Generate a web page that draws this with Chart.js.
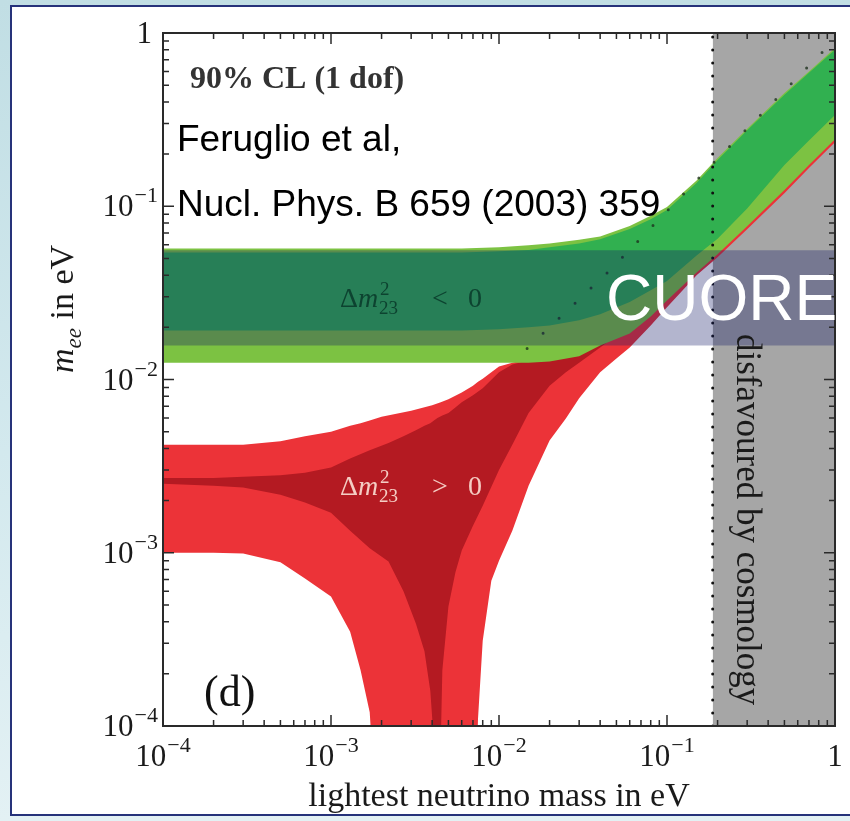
<!DOCTYPE html>
<html>
<head>
<meta charset="utf-8">
<script src="https://cdn.jsdelivr.net/npm/chart.js@4.4.1/dist/chart.umd.min.js"></script>
<style>
    html, body { margin: 0; padding: 0; overflow: hidden; }
    body {
        width: 850px; height: 821px; position: relative;
        background: linear-gradient(180deg, #c1dee4 0%, #d3e9ee 55%, #e3f1f4 100%);
    }
    #panel {
        position: absolute; left: 10px; top: 5px; width: 900px; height: 807px;
        background: #ffffff; border: 2px solid #26327a;
    }
    #wrap { position: absolute; left: 0; top: 0; width: 850px; height: 821px; }
</style>
</head>
<body>
<div id="panel"></div>
<div id="wrap"><canvas id="chart" width="850" height="821"></canvas></div>
<script>
// Axis ticks (label = base + exponent)
const xTicks = [1e-4, 1e-3, 1e-2, 1e-1, 1];
const xTickLabels = [['10', '\u22124'], ['10', '\u22123'], ['10', '\u22122'], ['10', '\u22121'], ['1', '']];
const yTicks = [1e-4, 1e-3, 1e-2, 1e-1, 1];
const yTickLabels = [['10', '\u22124'], ['10', '\u22123'], ['10', '\u22122'], ['10', '\u22121'], ['1', '']];

const ihMass = [1e-4, 1e-3, 3e-3, 0.006, 0.01, 0.015, 0.02, 0.03, 0.04, 0.06, 0.08, 0.1, 0.15, 0.2, 0.3, 0.5, 0.7, 1.0];
const ihOuterTop = [0.057, 0.057, 0.057, 0.057, 0.058, 0.0595, 0.061, 0.064, 0.067, 0.077, 0.088, 0.099, 0.141, 0.19, 0.28, 0.45, 0.60, 0.82];
const ihInnerTop = [0.054, 0.054, 0.054, 0.054, 0.055, 0.056, 0.058, 0.061, 0.0645, 0.074, 0.084, 0.095, 0.136, 0.185, 0.275, 0.44, 0.59, 0.80];
const ihInnerBottom = [0.0192, 0.0192, 0.0192, 0.0192, 0.0195, 0.020, 0.0205, 0.022, 0.0238, 0.028, 0.0327, 0.037, 0.052, 0.065, 0.097, 0.173, 0.24, 0.336];
const ihOuterBottom = [0.0125, 0.0125, 0.0125, 0.0125, 0.0125, 0.0125, 0.0127, 0.0136, 0.0157, 0.0184, 0.0231, 0.0286, 0.0415, 0.0528, 0.0766, 0.124, 0.173, 0.244];

// Normal hierarchy, outer region (light red)
const nhMass = [1e-4, 2e-4, 3e-4, 5e-4, 7e-4, 1e-3, 1.3e-3, 1.5e-3, 1.7e-3, 2e-3, 3e-3, 4e-3, 4.5e-3, 5e-3, 6e-3, 7e-3, 7.5e-3, 8e-3, 9e-3, 0.01, 0.012, 0.015, 0.02, 0.025, 0.03, 0.04, 0.05, 0.06, 0.08, 0.1, 0.15, 0.2, 0.3, 0.5, 0.7, 1.0];
const nhOuterTop = [0.0042, 0.0042, 0.0042, 0.0044, 0.0047, 0.0050, 0.0054, 0.0056, 0.0058, 0.0061, 0.0066, 0.0071, 0.0074, 0.0077, 0.0084, 0.0092, 0.0097, 0.0101, 0.011, 0.0119, 0.0125, 0.0132, 0.0147, 0.0168, 0.0187, 0.0225, 0.0257, 0.0294, 0.035, 0.040, 0.056, 0.073, 0.108, 0.21, 0.31, 0.41];
const nhOuterBottom = [0.001, 0.001, 0.00099, 0.00088, 0.00071, 0.00056, 0.00035, 0.00021, 0.00012, 1e-5, 1e-5, 1e-5, 1e-5, 1e-5, 1e-5, 1e-5, 0.00011, 0.00031, 0.00069, 0.0009, 0.00134, 0.00244, 0.00444, 0.00595, 0.0078, 0.011, 0.0132, 0.0153, 0.0205, 0.0261, 0.040, 0.0507, 0.0737, 0.119, 0.166, 0.234];

// Normal hierarchy, inner region (dark red)
const nhInnerMass = [1e-4, 2e-4, 3e-4, 5e-4, 7e-4, 1e-3, 1.3e-3, 1.7e-3, 2.2e-3, 2.7e-3, 3.2e-3, 3.6e-3, 3.9e-3, 4.1e-3, 4.3e-3, 4.6e-3, 5e-3, 5.5e-3, 6e-3, 7e-3, 8e-3, 0.01, 0.012, 0.015, 0.02, 0.025, 0.03, 0.04, 0.05, 0.06];
const nhInnerTop = [0.0027, 0.0027, 0.00275, 0.0028, 0.0029, 0.0031, 0.0035, 0.0039, 0.0043, 0.0047, 0.0051, 0.0054, 0.0056, 0.0058, 0.0060, 0.0062, 0.0064, 0.0069, 0.0074, 0.0081, 0.0089, 0.011, 0.0122, 0.0129, 0.0147, 0.0168, 0.0187, 0.0219, 0.025, 0.0286];
const nhInnerBottom = [0.0025, 0.00244, 0.00238, 0.00216, 0.00195, 0.0017, 0.00134, 0.00106, 0.00089, 0.0006, 0.00039, 0.00027, 0.00016, 0.00008, 1e-5, 0.00021, 0.00049, 0.00077, 0.00103, 0.00143, 0.00187, 0.003, 0.0042, 0.0064, 0.0092, 0.011, 0.0125, 0.0153, 0.018, 0.0205];

// CUORE sensitivity band
const cuoreMass = [1e-4, 1];
const cuoreTop = [0.0557, 0.0557];
const cuoreBottom = [0.0157, 0.0157];

// region disfavoured by cosmology
const cosmoMass = [0.187, 1];
const cosmoTop = [1, 1];
const cosmoEdgeMee = [1e-4, 1];

// dotted line inside the green band
const diagMass = [0.0147, 0.046, 0.188, 0.9];
const diagMee = [0.0151, 0.043, 0.177, 0.83];

function pts(xs, ys) {
    return xs.map((x, i) => ({ x: x, y: ys[i] }));
}

const datasets = [];

function addLine(xs, ys, opts) {
    datasets.push(Object.assign({
        data: pts(xs, ys),
        showLine: true,
        pointRadius: 0,
        borderWidth: 0,
        borderColor: 'rgba(0,0,0,0)',
        fill: false
    }, opts));
    return datasets.length - 1;
}

// band = lower edge (no fill) + upper edge filled down to it
function addBand(xs, top, bottom, color, order) {
    const lower = addLine(xs, bottom, { order: order });
    addLine(xs, top, { order: order, fill: lower, backgroundColor: color });
}

addLine(cosmoMass, cosmoTop, { order: 10, fill: 'start', backgroundColor: '#a6a6a6' });
addBand(nhMass, nhOuterTop, nhOuterBottom, '#ec3338', 9);
addBand(nhInnerMass, nhInnerTop, nhInnerBottom, '#b41a22', 8);
addBand(ihMass, ihOuterTop, ihOuterBottom, '#7cc242', 7);
addBand(ihMass, ihInnerTop, ihInnerBottom, '#31b050', 6);
addLine([cosmoMass[0], cosmoMass[0]], cosmoEdgeMee, {
    order: 5, borderWidth: 3, borderColor: '#111', borderDash: [0, 13], borderCapStyle: 'round'
});
addLine(diagMass, diagMee, {
    order: 5, borderWidth: 3, borderColor: 'rgba(30,50,30,0.8)', borderDash: [0, 22], borderCapStyle: 'round'
});
addBand(cuoreMass, cuoreTop, cuoreBottom, 'rgba(18,24,104,0.32)', 4);

// frame with inward ticks on all four sides
const frame = {
    id: 'frame',
    afterDatasetsDraw(chart) {
        const { ctx, chartArea: a, scales: { x, y } } = chart;
        ctx.save();
        ctx.strokeStyle = '#2a2a2a';
        ctx.lineWidth = 2;
        ctx.strokeRect(a.left, a.top, a.right - a.left, a.bottom - a.top);
        ctx.lineWidth = 1.5;
        ctx.beginPath();
        for (let e = -4; e <= 0; e++) {
            for (let k = 1; k <= 9; k++) {
                const v = k * Math.pow(10, e);
                if (v > 1.0001) break;
                const len = k === 1 ? 11 : 6;
                const px = x.getPixelForValue(v);
                const py = y.getPixelForValue(v);
                ctx.moveTo(px, a.bottom); ctx.lineTo(px, a.bottom - len);
                ctx.moveTo(px, a.top); ctx.lineTo(px, a.top + len);
                ctx.moveTo(a.left, py); ctx.lineTo(a.left + len, py);
                ctx.moveTo(a.right, py); ctx.lineTo(a.right - len, py);
            }
        }
        ctx.stroke();
        ctx.restore();
    }
};

function put(ctx, text, x, y, font, color) {
    ctx.font = font;
    ctx.fillStyle = color;
    ctx.fillText(text, x, y);
    return ctx.measureText(text).width;
}

function measure(ctx, text, font) {
    ctx.font = font;
    return ctx.measureText(text).width;
}

const serif = '"Liberation Serif", serif';
const sans = '"Liberation Sans", Arial, sans-serif';
const baseFont = '31px ' + serif;
const expFont = '22px ' + serif;

// tick labels with real superscripts, placed with the scales
const tickLabels = {
    id: 'tickLabels',
    afterDraw(chart) {
        const { ctx, scales: { x, y } } = chart;
        ctx.save();
        ctx.textAlign = 'left';
        ctx.textBaseline = 'alphabetic';
        xTicks.forEach((v, i) => {
            const [b, e] = xTickLabels[i];
            const wb = measure(ctx, b, baseFont) + (e ? 1 : 0);
            const we = e ? measure(ctx, e, expFont) : 0;
            const x0 = x.getPixelForValue(v) - (wb + we) / 2;
            put(ctx, b, x0, 766, baseFont, '#1a1a1a');
            if (e) put(ctx, e, x0 + wb, 752, expFont, '#1a1a1a');
        });
        yTicks.forEach((v, i) => {
            const [b, e] = yTickLabels[i];
            const py = y.getPixelForValue(v);
            const wb = measure(ctx, b, baseFont) + (e ? 1 : 0);
            const we = e ? measure(ctx, e, expFont) : 0;
            const right = e ? 158 : 152;
            const x0 = right - wb - we;
            put(ctx, b, x0, py + 10, baseFont, '#1a1a1a');
            if (e) put(ctx, e, x0 + wb, py - 4, expFont, '#1a1a1a');
        });
        ctx.restore();
    }
};

function deltaLabel(ctx, x0, y0, sign, color) {
    put(ctx, '\u0394', x0, y0, '28px ' + serif, color);
    put(ctx, 'm', x0 + 18, y0, 'italic 28px ' + serif, color);
    put(ctx, '2', x0 + 40, y0 - 12, '19px ' + serif, color);
    put(ctx, '23', x0 + 39, y0 + 7, '19px ' + serif, color);
    put(ctx, sign, x0 + 92, y0, '28px ' + serif, color);
    put(ctx, '0', x0 + 128, y0, '28px ' + serif, color);
}

const texts = {
    id: 'texts',
    afterDraw(chart) {
        const ctx = chart.ctx;
        ctx.save();
        ctx.textBaseline = 'alphabetic';
        ctx.textAlign = 'left';

        put(ctx, '90% CL (1 dof)', 190, 88, 'bold 32px ' + serif, '#333');
        put(ctx, 'Feruglio et al,', 177, 151, '37px ' + sans, '#000');
        put(ctx, 'Nucl. Phys. B 659 (2003) 359', 177, 216, '37px ' + sans, '#000');

        deltaLabel(ctx, 340, 307, '<', '#0d4330');
        deltaLabel(ctx, 340, 495, '>', '#f5cdc4');

        put(ctx, '(d)', 204, 706, '44px ' + serif, '#111');

        put(ctx, 'CUORE', 606, 320, '64px ' + sans, '#ffffff');

        // cosmology label, reading top to bottom
        ctx.save();
        ctx.translate(737, 334);
        ctx.rotate(Math.PI / 2);
        put(ctx, 'disfavoured by cosmology', 0, 0, '35px ' + serif, '#1a1a1a');
        ctx.restore();

        // y axis title, reading bottom to top
        ctx.save();
        ctx.translate(73, 373);
        ctx.rotate(-Math.PI / 2);
        const w = put(ctx, 'm', 0, 0, 'italic 34px ' + serif, '#1a1a1a');
        const we = put(ctx, 'ee', w, 8, 'italic 23px ' + serif, '#1a1a1a');
        put(ctx, ' in eV', w + we, 0, '34px ' + serif, '#1a1a1a');
        ctx.restore();

        ctx.restore();
    }
};

new Chart(document.getElementById('chart'), {
    type: 'scatter',
    data: { datasets: datasets },
    options: {
        responsive: false,
        animation: false,
        events: [],
        layout: { padding: { left: 63, top: 33, right: 15, bottom: 0 } },
        plugins: { legend: { display: false }, tooltip: { enabled: false } },
        scales: {
            x: {
                type: 'logarithmic', min: 1e-4, max: 1,
                grid: { display: false }, border: { display: false },
                afterBuildTicks: s => { s.ticks = xTicks.map(v => ({ value: v })); },
                afterFit: s => { s.height = 95; },
                ticks: { display: false },
                title: {
                    display: true, text: 'lightest neutrino mass in eV', color: '#1a1a1a',
                    font: { family: 'Liberation Serif', size: 34 }, padding: { top: 0, bottom: 4 }
                }
            },
            y: {
                type: 'logarithmic', min: 1e-4, max: 1,
                grid: { display: false }, border: { display: false },
                afterBuildTicks: s => { s.ticks = yTicks.map(v => ({ value: v })); },
                afterFit: s => { s.width = 100; },
                ticks: { display: false }
            }
        }
    },
    plugins: [frame, tickLabels, texts]
});
</script>
</body>
</html>
